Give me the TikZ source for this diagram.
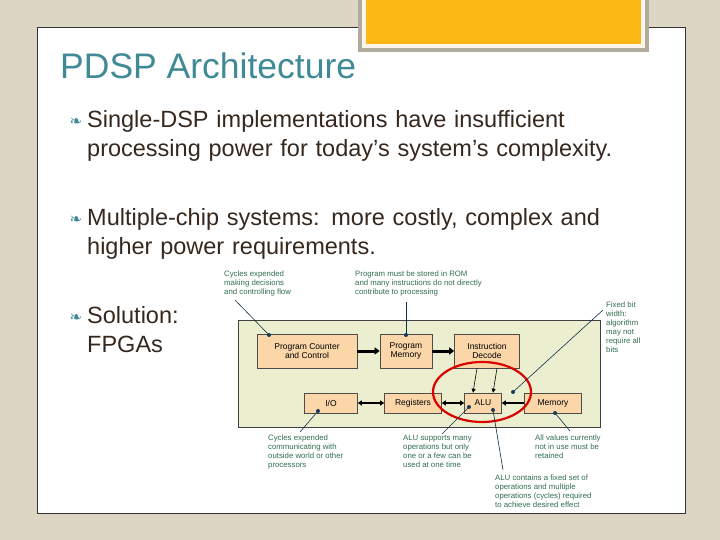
\documentclass[tikz,border=0pt]{standalone}
\usepackage{fontspec}
\setmainfont{Liberation Sans}
\newfontfamily\dvs{DejaVu Sans}
\usetikzlibrary{arrows.meta}
\definecolor{bgc}{RGB}{222,214,196}
\definecolor{ttl}{RGB}{64,138,150}
\definecolor{txt}{RGB}{55,40,30}
\definecolor{orng}{RGB}{252,184,20}
\definecolor{panel}{RGB}{236,238,208}
\definecolor{boxc}{RGB}{250,214,168}
\definecolor{lbl}{RGB}{50,110,80}
\definecolor{dotc}{RGB}{20,60,90}
\tikzset{
 blk/.style={draw=black!70,fill=boxc,line width=0.6pt,minimum height=#1,align=center,font=\fontsize{8.5}{9.5}\selectfont,inner sep=1pt},
 lab/.style={anchor=north west,align=left,text=lbl,font=\fontsize{7.8}{9}\selectfont,inner sep=0pt},
 callout/.style={draw=dotc!80!black,line width=0.6pt},
 dotm/.style={circle,fill=dotc,inner sep=0pt,minimum size=4pt},
 bul/.style={anchor=north west,align=left,text=txt,font=\fontsize{23.5}{29}\selectfont,inner sep=0pt,text width=600pt},
 icon/.style={text=ttl,font=\dvs\fontsize{15}{15}\selectfont,inner sep=0pt},
 fat/.style={-{Triangle[length=5pt,width=7pt]},line width=3pt},
 dbl/.style={{Triangle[length=4pt,width=5pt]}-{Triangle[length=4pt,width=5pt]},line width=1.5pt},
}
\begin{document}
\begin{tikzpicture}[x=1pt,y=-1pt]
\useasboundingbox (0,0) rectangle (720,540);
\fill[bgc] (0,0) rectangle (720,540);
\draw[fill=white,draw=black!80,line width=0.8pt] (37,27) rectangle (685,513);
% orange box
\fill[bgc!80!black] (358,-2) rectangle (649,52);
\fill[white!92!orange] (362,-2) rectangle (645,48);
\fill[orng] (366,-2) rectangle (641,44);
\node[anchor=west,text=ttl,font=\fontsize{35.5}{36}\selectfont,inner sep=0pt] (title) at (60,66) {PDSP Architecture};
\node[bul] (b1) at (87,110) {Single-DSP implementations have insufficient\\processing power for today’s system’s complexity.};
\node[bul] (b2) at (87,208) {Multiple-chip systems: more costly, complex and\\higher power requirements.};
\node[bul,text width=150pt] (b3) at (87,306) {Solution:\\FPGAs};
\node[icon] (i1) at (76,122) {❧};
\node[icon] (i2) at (76,220) {❧};
\node[icon] (i3) at (76,318) {❧};
% diagram
\draw[fill=panel,draw=black!75,line width=0.7pt] (238,320) rectangle (600,427);
\node[blk=34pt,minimum width=100pt] (pc) at (307,351) {Program Counter\\and Control};
\node[blk=34pt,minimum width=52pt] (pm) at (406,351) {Program\\Memory};
\node[blk=34pt,minimum width=65pt] (id) at (487,351) {Instruction\\Decode};
\node[blk=20pt,minimum width=53pt] (io) at (331,403) {I/O};
\node[blk=20pt,minimum width=57pt] (rg) at (413,403) {Registers};
\node[blk=20pt,minimum width=37pt] (alu) at (483,403) {ALU};
\node[blk=20pt,minimum width=57pt] (mem) at (553,403) {Memory};
\draw[fat] (pc) -- (pm);
\draw[fat] (pm) -- (id);
\draw[-{Triangle[length=4pt,width=4pt]},line width=0.6pt] ([xshift=-10pt]id.south) -- ([xshift=-10pt]alu.north);
\draw[-{Triangle[length=4pt,width=4pt]},line width=0.6pt] ([xshift=10pt]id.south) -- ([xshift=10pt]alu.north);
\draw[dbl] (io) -- (rg);
\draw[dbl] (rg) -- (alu);
\draw[-{Triangle[length=4pt,width=5pt]},line width=1.5pt] (mem) -- (alu);
\draw[red!85!black,line width=2.2pt] (482,392) ellipse [x radius=49pt,y radius=30pt];
% labels
\node[lab] (l1) at (224,271) {Cycles expended\\making decisions\\and controlling flow};
\node[lab] (l2) at (355,271) {Program must be stored in ROM\\and many instructions do not directly\\contribute to processing};
\node[lab] (l3) at (606,302) {Fixed bit\\width:\\algorithm\\may not\\require all\\bits};
\node[lab] (l4) at (268,435) {Cycles expended\\communicating with\\outside world or other\\processors};
\node[lab] (l5) at (403,435) {ALU supports many\\operations but only\\one or a few can be\\used at one time};
\node[lab] (l6) at (535,435) {All values currently\\not in use must be\\retained};
\node[lab] (l7) at (495,475) {ALU contains a fixed set of\\operations and multiple\\operations (cycles) required\\to achieve desired effect};
\coordinate (d1) at (269,335); \coordinate (d2) at (406,335);
\coordinate (d3) at (513,392); \coordinate (d4) at (318,411);
\coordinate (d5) at (469,407); \coordinate (d6) at (493,410);
\coordinate (d7) at (555,413);
\draw[callout] (235,300) -- (d1);
\draw[callout] (406,302) -- (d2);
\draw[callout] (603,310) -- (d3);
\draw[callout] (300,432) -- (d4);
\draw[callout] (442,434) -- (d5);
\draw[callout] (503,470) -- (d6);
\draw[callout] (570,431) -- (d7);
\foreach \d in {d1,d2,d3,d4,d5,d6,d7} \node[dotm] at (\d) {};
\end{tikzpicture}
\end{document}
